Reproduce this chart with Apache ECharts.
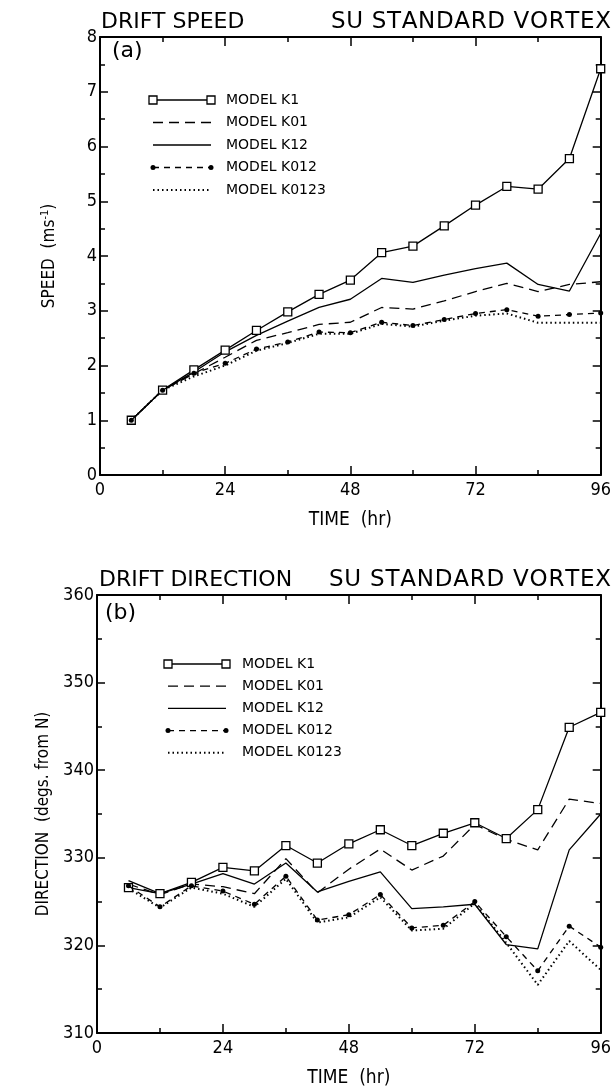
<!DOCTYPE html>
<html><head><meta charset="utf-8">
<script src="https://cdn.jsdelivr.net/npm/echarts@6/dist/echarts.min.js"></script>
<style>html,body{margin:0;padding:0;background:#fff}#c{width:614px;height:1089px}</style>
</head><body><div id="c"></div>
<script>
// ---------- data ----------
const hours = [6, 12, 18, 24, 30, 36, 42, 48, 54, 60, 66, 72, 78, 84, 90, 96];
const seriesNames = ['MODEL K1', 'MODEL K01', 'MODEL K12', 'MODEL K012', 'MODEL K0123'];

// (a) drift speed, m/s
const speedK1    = [1.00, 1.55, 1.92, 2.28, 2.64, 2.98, 3.30, 3.56, 4.06, 4.18, 4.55, 4.93, 5.27, 5.22, 5.78, 7.42];
const speedK01   = [1.00, 1.55, 1.85, 2.15, 2.46, 2.60, 2.75, 2.79, 3.06, 3.03, 3.18, 3.35, 3.50, 3.35, 3.48, 3.53];
const speedK12   = [1.00, 1.55, 1.88, 2.25, 2.55, 2.81, 3.06, 3.21, 3.59, 3.52, 3.65, 3.77, 3.87, 3.48, 3.36, 4.41];
const speedK012  = [1.00, 1.55, 1.86, 2.04, 2.30, 2.43, 2.61, 2.60, 2.79, 2.73, 2.84, 2.95, 3.02, 2.90, 2.93, 2.96];
const speedK0123 = [1.00, 1.55, 1.80, 2.00, 2.27, 2.41, 2.58, 2.58, 2.76, 2.71, 2.82, 2.91, 2.95, 2.78, 2.78, 2.78];

// (b) drift direction, degrees from N
const dirK1    = [326.6, 325.9, 327.2, 328.9, 328.5, 331.4, 329.4, 331.6, 333.2, 331.4, 332.8, 334.0, 332.2, 335.5, 344.9, 346.6];
const dirK01   = [327.0, 325.8, 327.0, 326.7, 325.9, 329.9, 326.0, 328.7, 331.0, 328.6, 330.2, 333.8, 332.1, 330.9, 336.7, 336.2];
const dirK12   = [327.4, 325.9, 327.0, 328.2, 327.0, 329.4, 326.1, 327.3, 328.4, 324.2, 324.4, 324.7, 320.1, 319.6, 330.9, 335.0];
const dirK012  = [326.8, 324.4, 326.8, 326.2, 324.7, 327.9, 322.9, 323.5, 325.8, 322.0, 322.3, 325.0, 321.0, 317.1, 322.2, 319.8];
const dirK0123 = [326.5, 324.3, 326.6, 325.9, 324.4, 327.6, 322.6, 323.2, 325.5, 321.7, 321.9, 324.8, 320.3, 315.5, 320.5, 317.2];

const timeTicks = [0, 24, 48, 72, 96];
const speedTicks = [0, 1, 2, 3, 4, 5, 6, 7, 8];
const dirTicks = [310, 320, 330, 340, 350, 360];

// ---------- styling ----------
const numFont = "'Liberation Sans Narrow','DejaVu Sans Condensed','Liberation Sans',sans-serif";
const titleFont = "'DejaVu Sans',sans-serif";
const styles = [
  {lineStyle:{color:'#000',width:1.3,type:'solid'}, symbol:'rect', symbolSize:8, itemStyle:{color:'#fff',borderColor:'#000',borderWidth:1.3}, z:3},
  {lineStyle:{color:'#000',width:1.3,type:[10,6]}, symbol:'none', z:2},
  {lineStyle:{color:'#000',width:1.3,type:'solid'}, symbol:'none', z:2},
  {lineStyle:{color:'#000',width:1.3,type:[6,5]}, symbol:'circle', symbolSize:5, itemStyle:{color:'#000'}, z:4},
  {lineStyle:{color:'#000',width:2,type:[1.5,3]}, symbol:'none', z:2}
];
const legendDash = [null,[10,6],null,[6,5],[1.5,3]];

function pairs(arr){ return hours.map((h,i)=>[h, arr[i]]); }

function xAxisDef(gi, pos, labels){
  return {
    type:'value', gridIndex:gi, position:pos, min:timeTicks[0], max:timeTicks[timeTicks.length-1],
    interval:timeTicks[1]-timeTicks[0],
    axisLine:{show:true,onZero:false,lineStyle:{color:'#000',width:2}},
    axisTick:{show:true,inside:true,length:9,lineStyle:{color:'#000',width:1.5}},
    minorTick:{show:true,splitNumber:2,length:5,lineStyle:{color:'#000',width:1.5}},
    splitLine:{show:false},
    axisLabel:{show:labels,color:'#000',fontFamily:numFont,fontSize:18,margin:6,
      formatter:v=>timeTicks.includes(v)?String(v):''},
    name: labels ? 'TIME  (hr)' : '', nameLocation:'middle', nameGap:36,
    nameTextStyle:{color:'#000',fontFamily:numFont,fontSize:19}
  };
}
function yAxisDef(gi, pos, labels, ticks, name, gap){
  return {
    type:'value', gridIndex:gi, position:pos, min:ticks[0], max:ticks[ticks.length-1],
    interval:ticks[1]-ticks[0],
    axisLine:{show:true,onZero:false,lineStyle:{color:'#000',width:2}},
    axisTick:{show:true,inside:true,length:8,lineStyle:{color:'#000',width:1.5}},
    minorTick:{show:true,splitNumber:2,length:5,lineStyle:{color:'#000',width:1.5}},
    splitLine:{show:false},
    axisLabel:{show:labels,color:'#000',fontFamily:numFont,fontSize:18,margin:3},
    name: labels ? name : '', nameLocation:'middle', nameGap:gap, nameRotate:90,
    nameTextStyle:{color:'#000',fontFamily:numFont,fontSize:17,
      rich:{sup:{fontFamily:numFont,fontSize:11,verticalAlign:'top',padding:[0,0,9,0],color:'#000'}}}
  };
}

const speedData = [speedK1, speedK01, speedK12, speedK012, speedK0123];
const dirData = [dirK1, dirK01, dirK12, dirK012, dirK0123];

const series = [];
speedData.forEach((arr,i)=>series.push(Object.assign({type:'line',name:seriesNames[i],xAxisIndex:0,yAxisIndex:0,data:pairs(arr),animation:false}, styles[i])));
dirData.forEach((arr,i)=>series.push(Object.assign({type:'line',name:seriesNames[i],xAxisIndex:2,yAxisIndex:2,data:pairs(arr),animation:false}, styles[i])));

// legend samples (drawn as graphics)
function legend(x0, x1, tx, y0, step){
  const g = [];
  seriesNames.forEach((nm,i)=>{
    const y = y0 + i*step;
    g.push({type:'line',shape:{x1:x0,y1:y,x2:x1,y2:y},style:{stroke:'#000',lineWidth:i===4?2:1.3,lineDash:legendDash[i]||null},z:10});
    if(i===0){
      [x0,x1].forEach(x=>g.push({type:'rect',shape:{x:x-4,y:y-4,width:8,height:8},style:{fill:'#fff',stroke:'#000',lineWidth:1.3},z:11}));
    }
    if(i===3){
      [x0,x1].forEach(x=>g.push({type:'circle',shape:{cx:x,cy:y,r:2.5},style:{fill:'#000'},z:11}));
    }
    g.push({type:'text',x:tx,y:y,style:{text:nm,fill:'#000',font:"14px "+titleFont,verticalAlign:'middle',align:'left'},z:11});
  });
  return g;
}
function txt(x,y,s,size,align){
  return {type:'text',x:x,y:y,style:{text:s,fill:'#000',font:size+"px "+titleFont,verticalAlign:'middle',align:align||'left'},z:11};
}
// lightly letter-spaced text spanning [xL, xR]
const measureCtx = document.createElement('canvas').getContext('2d');
function spacedText(xL, xR, y, s, size){
  const font = size+"px "+titleFont;
  measureCtx.font = font;
  const ws = Array.from(s).map(c=>measureCtx.measureText(c).width);
  const total = ws.reduce((a,b)=>a+b,0);
  const gap = Math.max(0, (xR - xL - total)/(s.length-1));
  const out = [];
  let x = xR - total - gap*(s.length-1);
  Array.from(s).forEach((c,i)=>{
    if(c!==' ') out.push({type:'text',x:x,y:y,style:{text:c,fill:'#000',font:font,verticalAlign:'middle',align:'left'},z:11});
    x += ws[i] + gap;
  });
  return out;
}

const graphic = [].concat(
  legend(153, 211, 226, 100, 22.5),
  legend(168, 226, 242, 664, 22.2),
  [txt(101,22,'DRIFT SPEED',22), txt(99,580,'DRIFT DIRECTION',22),
   txt(112,51,'(a)',22), txt(105,613,'(b)',22)],
  spacedText(331, 611, 22, 'SU STANDARD VORTEX', 23),
  spacedText(329, 611, 580, 'SU STANDARD VORTEX', 23)
);

const option = {
  backgroundColor:'#fff',
  animation:false,
  grid:[
    {left:100, top:37, width:506, height:438},
    {left:97, top:595, width:508, height:438}
  ],
  xAxis:[xAxisDef(0,'bottom',true), xAxisDef(0,'top',false), xAxisDef(1,'bottom',true), xAxisDef(1,'top',false)],
  yAxis:[
    yAxisDef(0,'left',true,speedTicks,'SPEED  (ms{sup|-1})',40), yAxisDef(0,'right',false,speedTicks,'',0),
    yAxisDef(1,'left',true,dirTicks,'DIRECTION  (degs. from N)',40), yAxisDef(1,'right',false,dirTicks,'',0)
  ],
  series: series,
  graphic: graphic
};
const chart = echarts.init(document.getElementById('c'), null, {renderer:'canvas'});
chart.setOption(option);
</script></body></html>
